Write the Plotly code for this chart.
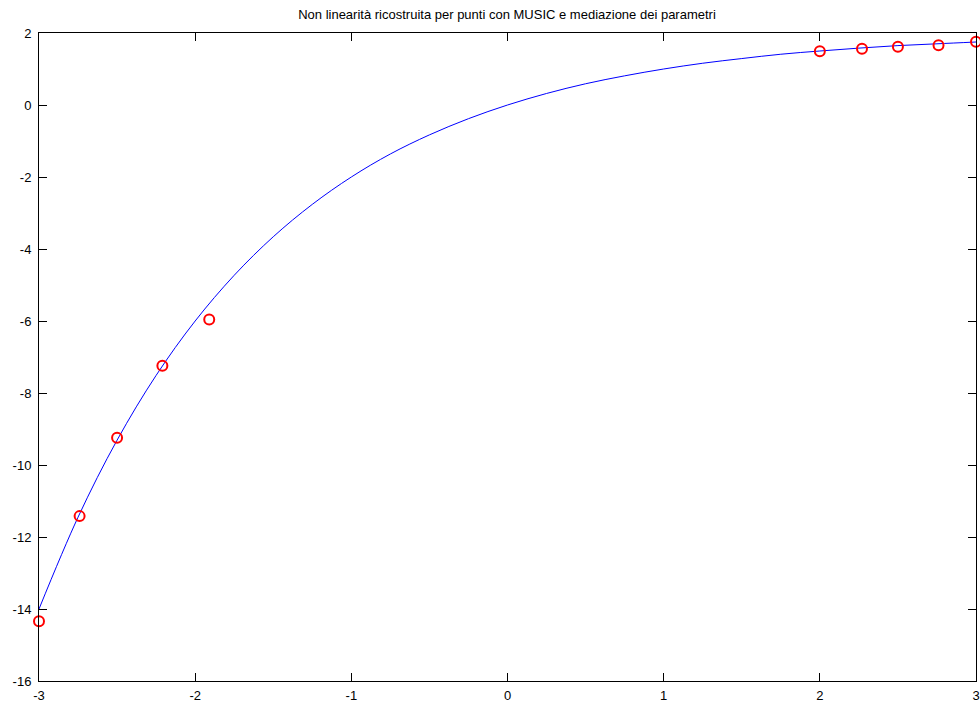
import plotly.graph_objects as go

# Reconstructed nonlinearity curve
curve_x = [-3.0, -2.75, -2.5, -2.25, -2.0, -1.75, -1.5, -1.25, -1.0, -0.75, -0.5, -0.25,
           0.0, 0.25, 0.5, 0.75, 1.0, 1.25, 1.5, 1.75, 2.0, 2.25, 2.5, 2.75, 3.0]
curve_y = [-14.0, -11.45, -9.31, -7.51, -6.0, -4.73, -3.66, -2.76, -2.0, -1.36, -0.83, -0.38,
           0.0, 0.32, 0.59, 0.81, 1.0, 1.16, 1.29, 1.41, 1.5, 1.58, 1.65, 1.70, 1.75]

# Point estimates (red circles)
pts_x = [-3.0, -2.74, -2.5, -2.21, -1.91, 2.0, 2.27, 2.5, 2.76, 3.0]
pts_y = [-14.34, -11.42, -9.24, -7.24, -5.96, 1.49, 1.56, 1.62, 1.66, 1.76]

x_ticks = [-3, -2, -1, 0, 1, 2, 3]
x_labels = ["-3", "-2", "-1", "0", "1", "2", "3"]
y_ticks = [-16, -14, -12, -10, -8, -6, -4, -2, 0, 2]
y_labels = ["-16", "-14", "-12", "-10", "-8", "-6", "-4", "-2", "0", "2"]

fig = go.Figure()
fig.add_trace(go.Scatter(x=curve_x, y=curve_y, mode="lines",
                         line=dict(color="#0000FF", width=1, shape="spline"),
                         showlegend=False, cliponaxis=True))
fig.add_trace(go.Scatter(x=pts_x, y=pts_y, mode="markers",
                         marker=dict(symbol="circle-open", size=10, color="#FF0000",
                                     line=dict(width=2, color="#FF0000")),
                         showlegend=False, cliponaxis=False))

axis_common = dict(showline=True, linecolor="black", linewidth=1, mirror="ticks",
                   ticks="inside", ticklen=8, tickcolor="black", tickwidth=1,
                   showgrid=False, zeroline=False, automargin=False,
                   tickfont=dict(family="Liberation Sans, Arial, sans-serif", size=13, color="black"))

W, H = 980, 704
fig.update_layout(
    width=W, height=H,
    margin=dict(l=39, r=4, t=33, b=23, autoexpand=False),
    paper_bgcolor="white", plot_bgcolor="white",
    title=dict(text="Non linearità ricostruita per punti con MUSIC e mediazione dei parametri",
               x=507 / W, xanchor="center", y=1 - 14 / H, yanchor="middle",
               automargin=False,
               font=dict(family="Liberation Sans, Arial, sans-serif", size=13, color="black")),
    xaxis=dict(range=[-3, 3], tickvals=x_ticks, ticktext=x_labels, ticklabelstandoff=2, **axis_common),
    yaxis=dict(range=[-16, 2], tickvals=y_ticks, ticktext=y_labels, ticklabelstandoff=4, **axis_common),
)

fig.write_html(
    "out.html",
    config={"displayModeBar": False},
    post_script="document.documentElement.style.margin='0';document.body.style.margin='0';"
                "document.documentElement.style.overflow='hidden';document.body.style.overflow='hidden';",
)
